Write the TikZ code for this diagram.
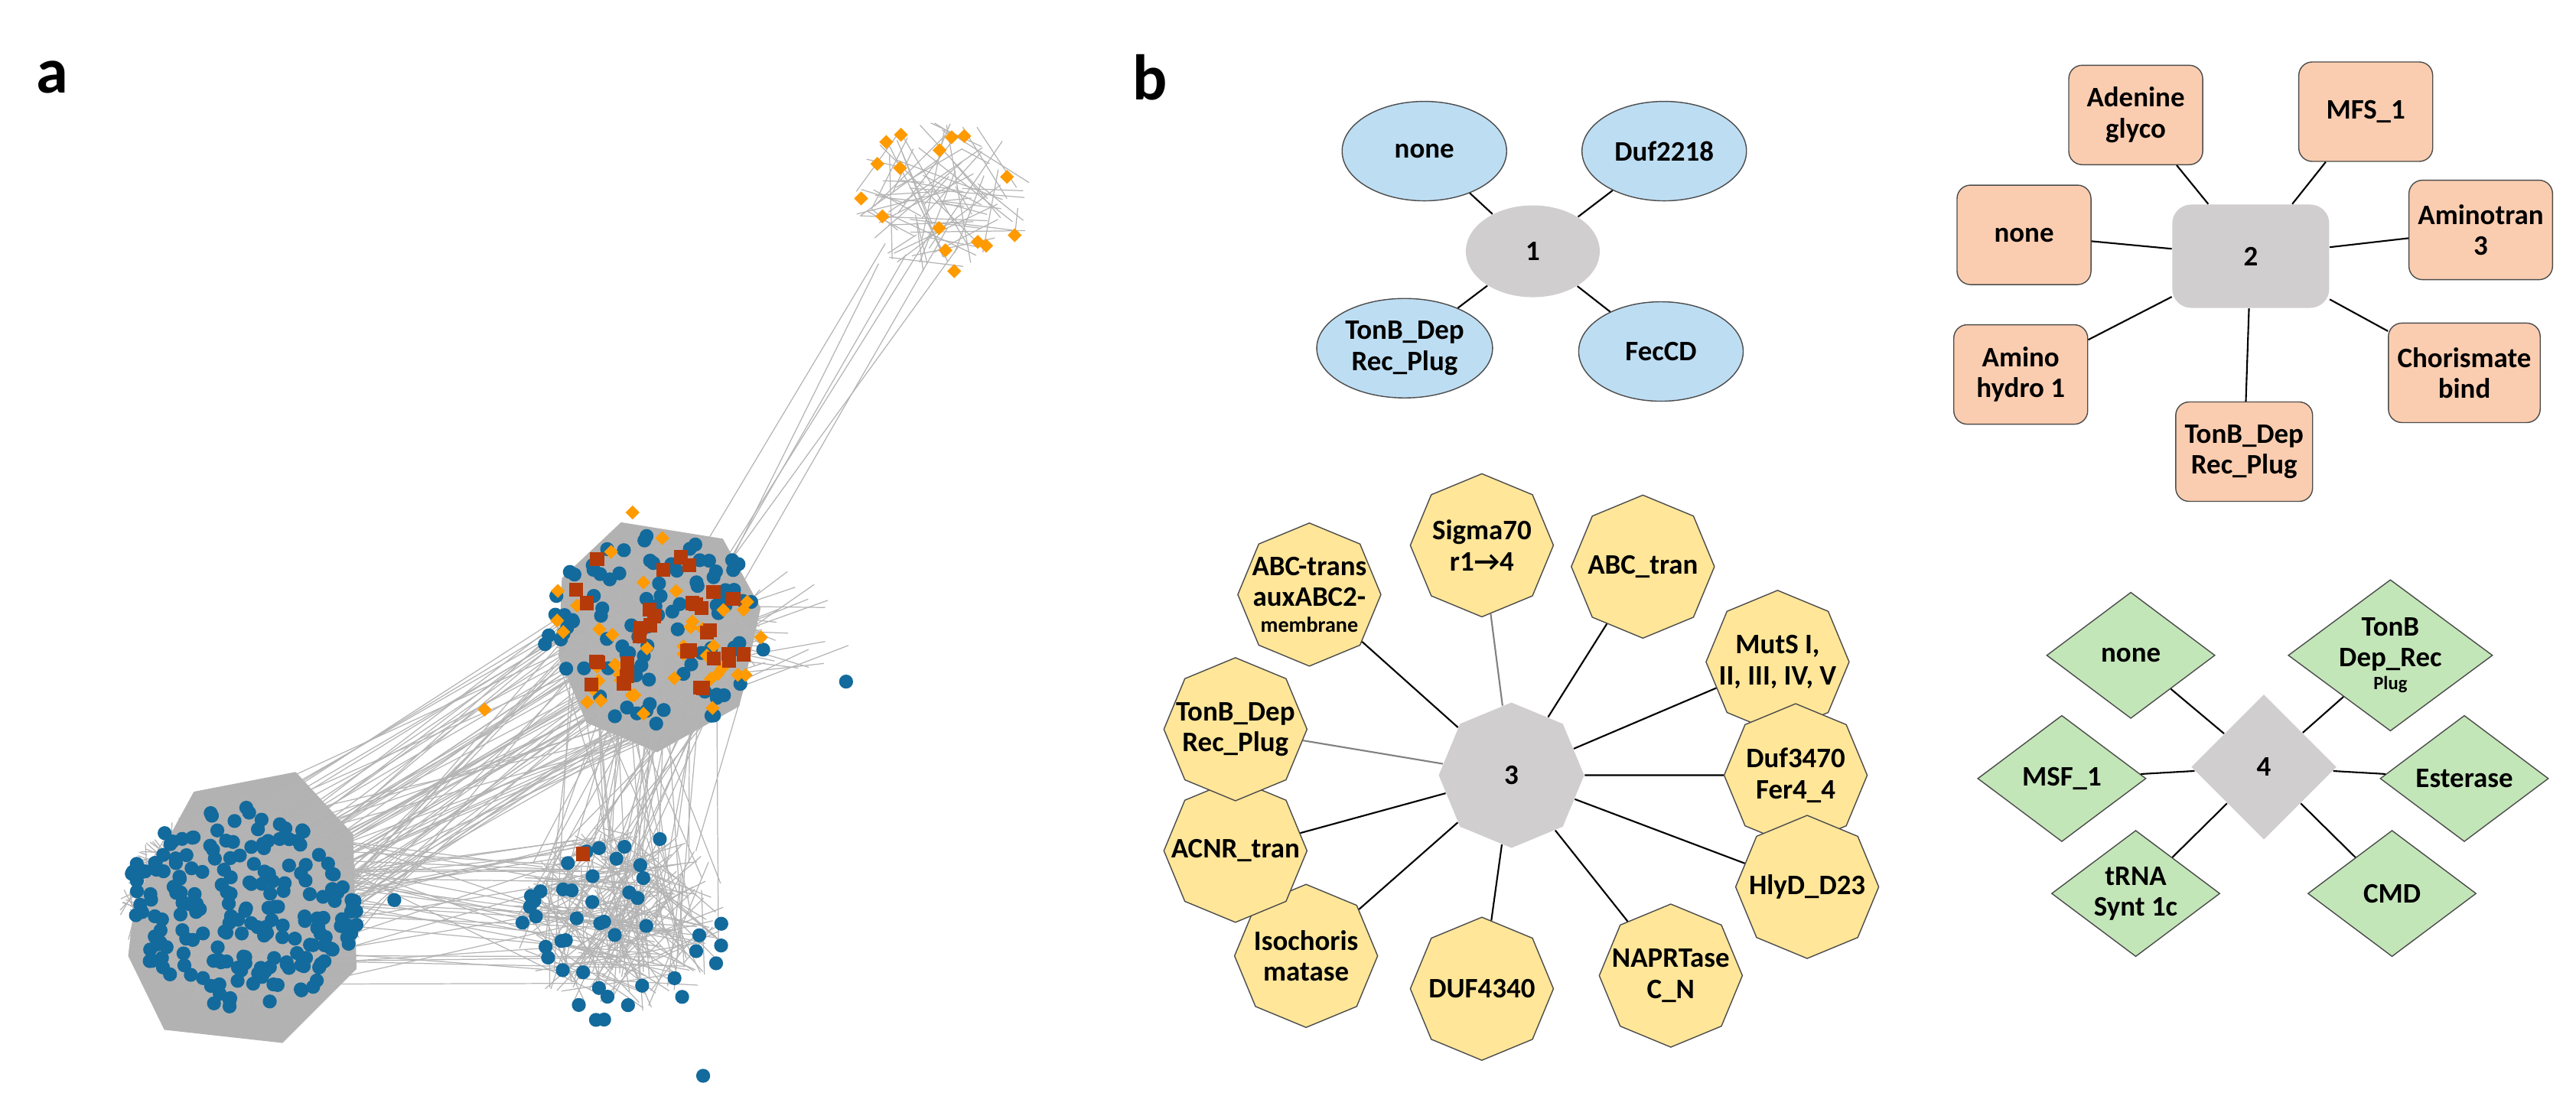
\documentclass[tikz,border=0pt]{standalone}
\usepackage{fontspec}
\setmainfont{Carlito}
\usetikzlibrary{shapes.geometric}
\definecolor{cblue}{HTML}{BDDDF2}
\definecolor{corange}{HTML}{FBCDB0}
\definecolor{cyellow}{HTML}{FFE699}
\definecolor{cgreen}{HTML}{C3E6B8}
\definecolor{cgray}{HTML}{D0CECE}
\definecolor{dblue}{HTML}{136A9C}
\definecolor{dorange}{HTML}{FF9A00}
\definecolor{dred}{HTML}{B53A0A}
\definecolor{egray}{HTML}{B4B4B4}
\newcommand\myedges[7]{\foreach \k in {1,...,#7}{\pgfmathsetmacro\aA{rnd*360}\pgfmathsetmacro\rA{sqrt(rnd)*#3}\pgfmathsetmacro\aB{rnd*360}\pgfmathsetmacro\rB{sqrt(rnd)*#6}\draw[edge] ({#1+\rA*cos(\aA)},{#2+0.85*\rA*sin(\aA)}) -- ({#4+\rB*cos(\aB)},{#5+0.85*\rB*sin(\aB)});}}
\newcommand\mydots[5]{\foreach \k in {1,...,#4}{\pgfmathsetmacro\aA{rnd*360}\pgfmathsetmacro\rA{sqrt(rnd)*#3}\path ({#1+\rA*cos(\aA)},{#2+0.85*\rA*sin(\aA)}) pic{#5};}}
\tikzset{
 edge/.style={draw=egray,line width=0.35pt},
 bdot/.pic={\fill[dblue] (0,0) circle (2.6pt);},
 odia/.pic={\fill[dorange] (0,2.6pt)--(2.6pt,0)--(0,-2.6pt)--(-2.6pt,0)--cycle;},
 rsq/.pic={\fill[dred] (-2.6pt,-2.6pt) rectangle (2.6pt,2.6pt);},
 lab/.style={font=\bfseries\fontsize{10.5pt}{11.5pt}\selectfont,align=center,text=black},
 conn/.style={draw=black,line width=0.6pt},
 ell/.style={ellipse,draw=black!70,fill=cblue,minimum width=2.15cm,minimum height=1.3cm,inner sep=1pt,lab},
 rr/.style={rectangle,rounded corners=5pt,draw=black!70,fill=corange,minimum width=1.75cm,minimum height=1.3cm,lab},
 oct/.style={regular polygon,regular polygon sides=8,shape border rotate=22.5,draw=black!70,fill=cyellow,minimum size=1.87cm,inner sep=0pt,label={[lab]center:#1}},
 dia/.style={diamond,aspect=1.35,draw=black!70,fill=cgreen,minimum width=2.2cm,minimum height=1.65cm,inner sep=0pt,lab},
}
\begin{document}
\begin{tikzpicture}[x=0.021473cm,y=-0.021473cm]
\useasboundingbox (0,0) rectangle (1568,673);
\pgfmathsetseed{7}
% panel labels
\node[font=\bfseries\fontsize{24pt}{26pt}\selectfont] (la) at (32,47) {a};
\node[font=\bfseries\fontsize{24pt}{26pt}\selectfont] (lb) at (700,47) {b};
% ---------- panel a ----------
\fill[gray!60] (82,548)--(118,482)--(180,470)--(215,508)--(217,590)--(172,635)--(100,627)--(78,582)--cycle;
\fill[gray!60] (342,352)--(378,318)--(440,328)--(463,370)--(450,430)--(400,458)--(357,440)--(340,400)--cycle;
\myedges{148}{552}{75}{148}{552}{75}{500}
\myedges{400}{385}{65}{400}{385}{65}{350}
\myedges{378}{560}{68}{378}{560}{68}{160}
\myedges{575}{120}{55}{575}{120}{55}{70}
\myedges{148}{552}{70}{400}{400}{60}{70}
\myedges{148}{552}{70}{378}{555}{60}{40}
\myedges{378}{555}{65}{400}{400}{60}{50}
\myedges{400}{390}{40}{560}{150}{30}{6}
\myedges{400}{390}{60}{480}{380}{40}{25}
\mydots{148}{552}{72}{210}{bdot}
\mydots{378}{565}{68}{45}{bdot}
\mydots{400}{385}{70}{100}{bdot}
\mydots{400}{385}{68}{40}{odia}
\mydots{400}{380}{60}{32}{rsq}
\mydots{575}{120}{55}{16}{odia}
\path (428,655) pic{bdot} (515,415) pic{bdot} (295,432) pic{odia} (385,312) pic{odia} (240,548) pic{bdot} (355,520) pic{rsq};
% ---------- panel b cluster 1 ----------
\node[ellipse,fill=cgray,minimum width=1.75cm,minimum height=1.2cm,lab] (c1) at (933,153) {1};
\node[ell] (n1a) at (867,92) {none};
\node[ell] (n1b) at (1013,92) {Duf2218};
\node[ell] (n1c) at (855,212) {TonB\_Dep\\Rec\_Plug};
\node[ell] (n1d) at (1011,214) {FecCD};
\foreach \n in {n1a,n1b,n1c,n1d} \draw[conn] (c1) -- (\n);
% cluster 2
\node[rectangle,rounded corners=7pt,fill=cgray,minimum width=2.05cm,minimum height=1.35cm,lab] (c2) at (1370,156) {2};
\node[rr] (n2a) at (1300,70) {Adenine\\glyco};
\node[rr] (n2b) at (1440,68) {MFS\_1};
\node[rr] (n2c) at (1232,143) {none};
\node[rr] (n2d) at (1510,140) {Aminotran\\3};
\node[rr] (n2e) at (1230,228) {Amino\\hydro 1};
\node[rr] (n2f) at (1366,275) {TonB\_Dep\\Rec\_Plug};
\node[rr] (n2g) at (1500,227) {Chorismate\\bind};
\foreach \n in {n2a,n2b,n2c,n2d,n2e,n2f,n2g} \draw[conn] (c2) -- (\n);
% cluster 3
\node[regular polygon,regular polygon sides=8,shape border rotate=22.5,fill=cgray,minimum size=1.9cm,inner sep=0pt,lab] (c3) at (920,472) {3};
\node[oct={ABC-trans\\auxABC2-\\[-2pt]{\fontsize{8pt}{9pt}\selectfont membrane}}] (n3a) at (797,362) {};
\node[oct={Sigma70\\r1\textrightarrow4}] (n3b) at (902,332) {};
\node[oct={ABC\_tran}] (n3c) at (1000,345) {};
\node[oct={MutS I,\\II, III, IV, V}] (n3d) at (1082,403) {};
\node[oct={Duf3470\\Fer4\_4}] (n3e) at (1093,472) {};
\node[oct={HlyD\_D23}] (n3f) at (1100,540) {};
\node[oct={NAPRTase\\C\_N}] (n3g) at (1017,594) {};
\node[oct={DUF4340}] (n3h) at (902,602) {};
\node[oct={Isochoris\\matase}] (n3i) at (795,582) {};
\node[oct={ACNR\_tran}] (n3j) at (752,518) {};
\node[oct={TonB\_Dep\\Rec\_Plug}] (n3k) at (752,444) {};
\foreach \n in {n3a,n3c,n3d,n3e,n3f,n3g,n3h,n3i,n3j} \draw[conn] (c3) -- (\n);
\draw[conn,draw=gray] (c3) -- (n3b);
\draw[conn,draw=gray] (c3) -- (n3k);
% cluster 4
\node[diamond,aspect=1,fill=cgray,minimum size=1.9cm,inner sep=0pt,lab] (c4) at (1378,467) {4};
\node[dia] (n4a) at (1297,399) {none};
\node[dia] (n4b) at (1455,399) {TonB\\Dep\_Rec\\[-3pt]{\fontsize{7pt}{8pt}\selectfont Plug}};
\node[dia] (n4c) at (1255,474) {MSF\_1};
\node[dia] (n4d) at (1500,474) {Esterase};
\node[dia] (n4e) at (1300,544) {tRNA\\Synt 1c};
\node[dia] (n4f) at (1456,544) {CMD};
\foreach \n in {n4a,n4b,n4c,n4d,n4e,n4f} \draw[conn] (c4) -- (\n);
\end{tikzpicture}
\end{document}
